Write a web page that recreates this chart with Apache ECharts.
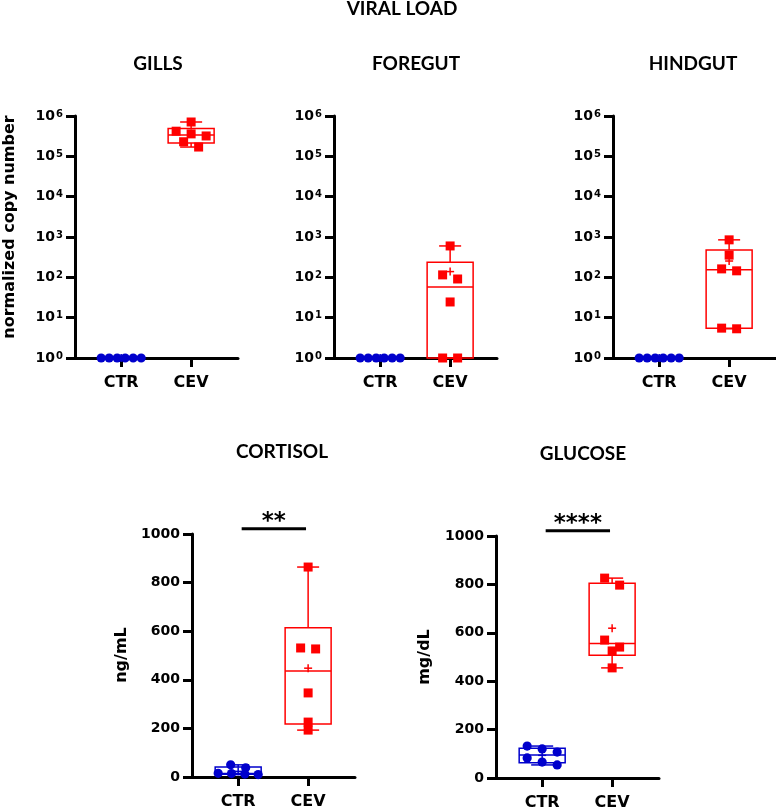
<!DOCTYPE html>
<html>
<head>
<meta charset="utf-8">
<title>Viral load, cortisol and glucose</title>
<script src="https://cdn.jsdelivr.net/npm/echarts@6/dist/echarts.min.js"></script>
<style>
  html, body { margin: 0; padding: 0; background: #fff; }
  #chart { width: 776px; height: 808px; }
</style>
</head>
<body>
<div id="chart"></div>
<script>
const categories = ['CTR', 'CEV']
const logTicks = [1, 10, 100, 1000, 10000, 100000, 1000000]
const linearTicks = [0, 200, 400, 600, 800, 1000]

// viral load, normalized copy number
const gillsCTR = [1, 1, 1, 1, 1, 1]
const gillsCEV = [710000, 420000, 320000, 360000, 170000, 230000]
const foregutCTR = [1, 1, 1, 1, 1, 1]
const foregutCEV = [600, 115, 91, 24.5, 1, 1]
const hindgutCTR = [1, 1, 1, 1, 1, 1]
const hindgutCEV = [850, 355, 162, 145, 5.5, 5.3]

// cortisol ng/mL, glucose mg/dL
const cortisolCTR = [10, 12, 14, 15, 38, 50]
const cortisolCEV = [864, 531, 527, 346, 226, 193]
const glucoseCTR = [132, 120, 107, 83, 66, 54]
const glucoseCEV = [826, 797, 570, 541, 525, 455]

const significance = ['**', '****']

const BLUE = '#0000cc'
const RED = '#ff0000'
const FONT = 'DejaVu Sans'
const TITLE_FONT = 'Lato'

const panels = [
  { groups: [gillsCTR, gillsCEV], log: true, grid: { left: 75, top: 116, width: 163, height: 242 } },
  { groups: [foregutCTR, foregutCEV], log: true, grid: { left: 334, top: 116, width: 163, height: 242 } },
  { groups: [hindgutCTR, hindgutCEV], log: true, grid: { left: 613, top: 116, width: 163, height: 242 } },
  { groups: [cortisolCTR, cortisolCEV], log: false, grid: { left: 192, top: 534, width: 163, height: 243 }, sig: significance[0] },
  { groups: [glucoseCTR, glucoseCEV], log: false, grid: { left: 496, top: 536, width: 163, height: 242 }, sig: significance[1] }
]

// quartiles the way Prism does them: position (n + 1) * p
function quantile (sorted, p) {
  const n = sorted.length
  const h = (n + 1) * p
  const lo = Math.floor(h)
  if (lo < 1) return sorted[0]
  if (lo >= n) return sorted[n - 1]
  return sorted[lo - 1] + (h - lo) * (sorted[lo] - sorted[lo - 1])
}

function boxStats (values) {
  const s = values.slice().sort((a, b) => a - b)
  const mean = s.reduce((a, b) => a + b, 0) / s.length
  return [s[0], quantile(s, 0.25), quantile(s, 0.5), quantile(s, 0.75), s[s.length - 1], mean]
}

// spread points that sit at nearly the same height side by side
function swarm (ys) {
  const order = ys.map((y, i) => i).sort((a, b) => ys[a] - ys[b])
  const off = ys.map(() => 0)
  let row = []
  const flush = () => {
    const n = row.length
    const step = n > 1 ? Math.min(15, 40 / (n - 1)) : 0
    row.forEach((i, k) => { off[i] = (k - (n - 1) / 2) * step })
    row = []
  }
  order.forEach(i => {
    if (row.length && ys[i] - ys[row[0]] > 7.5) flush()
    row.push(i)
  })
  flush()
  return off
}

function renderBox (params, api) {
  const x = api.value(0)
  const color = x === 0 ? BLUE : RED
  const pt = v => api.coord([x, v])
  const cx = pt(api.value(1))[0]
  const yMin = pt(api.value(1))[1]
  const yQ1 = pt(api.value(2))[1]
  const yMed = pt(api.value(3))[1]
  const yQ3 = pt(api.value(4))[1]
  const yMax = pt(api.value(5))[1]
  const yMean = pt(api.value(6))[1]
  const half = 23
  const cap = 11
  const st = { stroke: color, lineWidth: 1.5, fill: null }
  const line = (x1, y1, x2, y2) => ({ type: 'line', shape: { x1, y1, x2, y2 }, style: st })
  return {
    type: 'group',
    children: [
      { type: 'rect', shape: { x: cx - half, y: yQ3, width: half * 2, height: yQ1 - yQ3 }, style: st },
      line(cx - half, yMed, cx + half, yMed),
      line(cx, yQ3, cx, yMax),
      line(cx, yQ1, cx, yMin),
      line(cx - cap, yMax, cx + cap, yMax),
      line(cx - cap, yMin, cx + cap, yMin),
      line(cx - 4, yMean, cx + 4, yMean),
      line(cx, yMean - 4, cx, yMean + 4)
    ]
  }
}

function pointRenderer (values) {
  return function (params, api) {
    const x = api.value(0)
    const idx = api.value(2)
    const ys = values.map(v => api.coord([x, v])[1])
    const off = swarm(ys)
    const cx = api.coord([x, values[idx]])[0] + off[idx]
    const cy = ys[idx]
    if (x === 0) {
      return { type: 'circle', shape: { cx, cy, r: 4.6 }, style: { fill: BLUE } }
    }
    return { type: 'rect', shape: { x: cx - 4.5, y: cy - 4.5, width: 9, height: 9 }, style: { fill: RED } }
  }
}

function sigRenderer (text) {
  return function (params, api) {
    const a = api.coord([api.value(0), api.value(2)])
    const b = api.coord([api.value(1), api.value(2)])
    return {
      type: 'group',
      children: [
        { type: 'line', shape: { x1: a[0], y1: a[1], x2: b[0], y2: b[1] }, style: { stroke: '#000', lineWidth: 3 } },
        {
          type: 'text',
          x: (a[0] + b[0]) / 2,
          y: a[1] - 7,
          style: { text, fontFamily: FONT, fontWeight: 'bold', fontSize: 23, fill: '#000', align: 'center', verticalAlign: 'middle' }
        }
      ]
    }
  }
}

const axisLineStyle = { color: '#000', width: 3 }
const grids = []
const xAxes = []
const yAxes = []
const series = []

panels.forEach((p, i) => {
  grids.push(Object.assign({ outerBoundsMode: 'none' }, p.grid))
  xAxes.push({
    type: 'value',
    gridIndex: i,
    min: -0.66,
    max: 1.67,
    axisLine: { onZero: false, lineStyle: axisLineStyle },
    axisTick: { customValues: [0, 1], length: 9, lineStyle: axisLineStyle },
    axisLabel: {
      customValues: [0, 1],
      formatter: v => categories[Math.round(v)],
      margin: 17,
      fontFamily: FONT,
      fontWeight: 'bold',
      fontSize: 16,
      color: '#000'
    },
    splitLine: { show: false }
  })
  const yAxis = {
    gridIndex: i,
    axisLine: { show: true, onZero: false, lineStyle: axisLineStyle },
    axisTick: { show: true, length: 9, lineStyle: axisLineStyle },
    splitLine: { show: false }
  }
  if (p.log) {
    Object.assign(yAxis, {
      type: 'log',
      logBase: 10,
      min: logTicks[0],
      max: logTicks[logTicks.length - 1],
      splitNumber: logTicks.length - 1,
      axisLabel: {
        margin: 12,
        formatter: v => '{b|10}{s|' + Math.round(Math.log10(v)) + '}',
        rich: {
          b: { fontFamily: FONT, fontWeight: 'bold', fontSize: 14, color: '#000' },
          s: { fontFamily: FONT, fontWeight: 'bold', fontSize: 10, color: '#000', verticalAlign: 'top', padding: [0, 0, 0, 1] }
        }
      }
    })
  } else {
    Object.assign(yAxis, {
      type: 'value',
      min: linearTicks[0],
      max: linearTicks[linearTicks.length - 1],
      interval: linearTicks[1] - linearTicks[0],
      axisLabel: { margin: 12, formatter: v => String(v), fontFamily: FONT, fontWeight: 'bold', fontSize: 14, color: '#000' }
    })
  }
  yAxes.push(yAxis)

  p.groups.forEach((values, g) => {
    series.push({
      type: 'custom',
      xAxisIndex: i,
      yAxisIndex: i,
      clip: false,
      z: 2,
      renderItem: renderBox,
      data: [[g].concat(boxStats(values))]
    })
  })
  p.groups.forEach((values, g) => {
    series.push({
      type: 'custom',
      xAxisIndex: i,
      yAxisIndex: i,
      clip: false,
      z: 3,
      renderItem: pointRenderer(values),
      data: values.map((v, k) => [g, v, k])
    })
  })
  if (p.sig) {
    series.push({
      type: 'custom',
      xAxisIndex: i,
      yAxisIndex: i,
      clip: false,
      renderItem: sigRenderer(p.sig),
      data: [[0.05, 0.97, 1022]]
    })
  }
})

function label (text, x, y, size, family, rotate) {
  return {
    type: 'text',
    x,
    y,
    rotation: rotate ? Math.PI / 2 : 0,
    style: { text, fontFamily: family, fontWeight: 'bold', fontSize: size, fill: '#000', align: 'center', verticalAlign: 'middle' }
  }
}

const chart = echarts.init(document.getElementById('chart'))
chart.setOption({
  backgroundColor: '#fff',
  animation: false,
  grid: grids,
  xAxis: xAxes,
  yAxis: yAxes,
  series,
  graphic: [
    label('VIRAL LOAD', 402, 9, 19, TITLE_FONT),
    label('GILLS', 158, 64, 19, TITLE_FONT),
    label('FOREGUT', 416, 64, 19, TITLE_FONT),
    label('HINDGUT', 693, 64, 19, TITLE_FONT),
    label('CORTISOL', 282, 452, 19, TITLE_FONT),
    label('GLUCOSE', 583, 454, 19, TITLE_FONT),
    label('normalized copy number', 10, 227, 16, FONT, true),
    label('ng/mL', 122, 655, 16, FONT, true),
    label('mg/dL', 425, 657, 16, FONT, true)
  ]
})
</script>
</body>
</html>
